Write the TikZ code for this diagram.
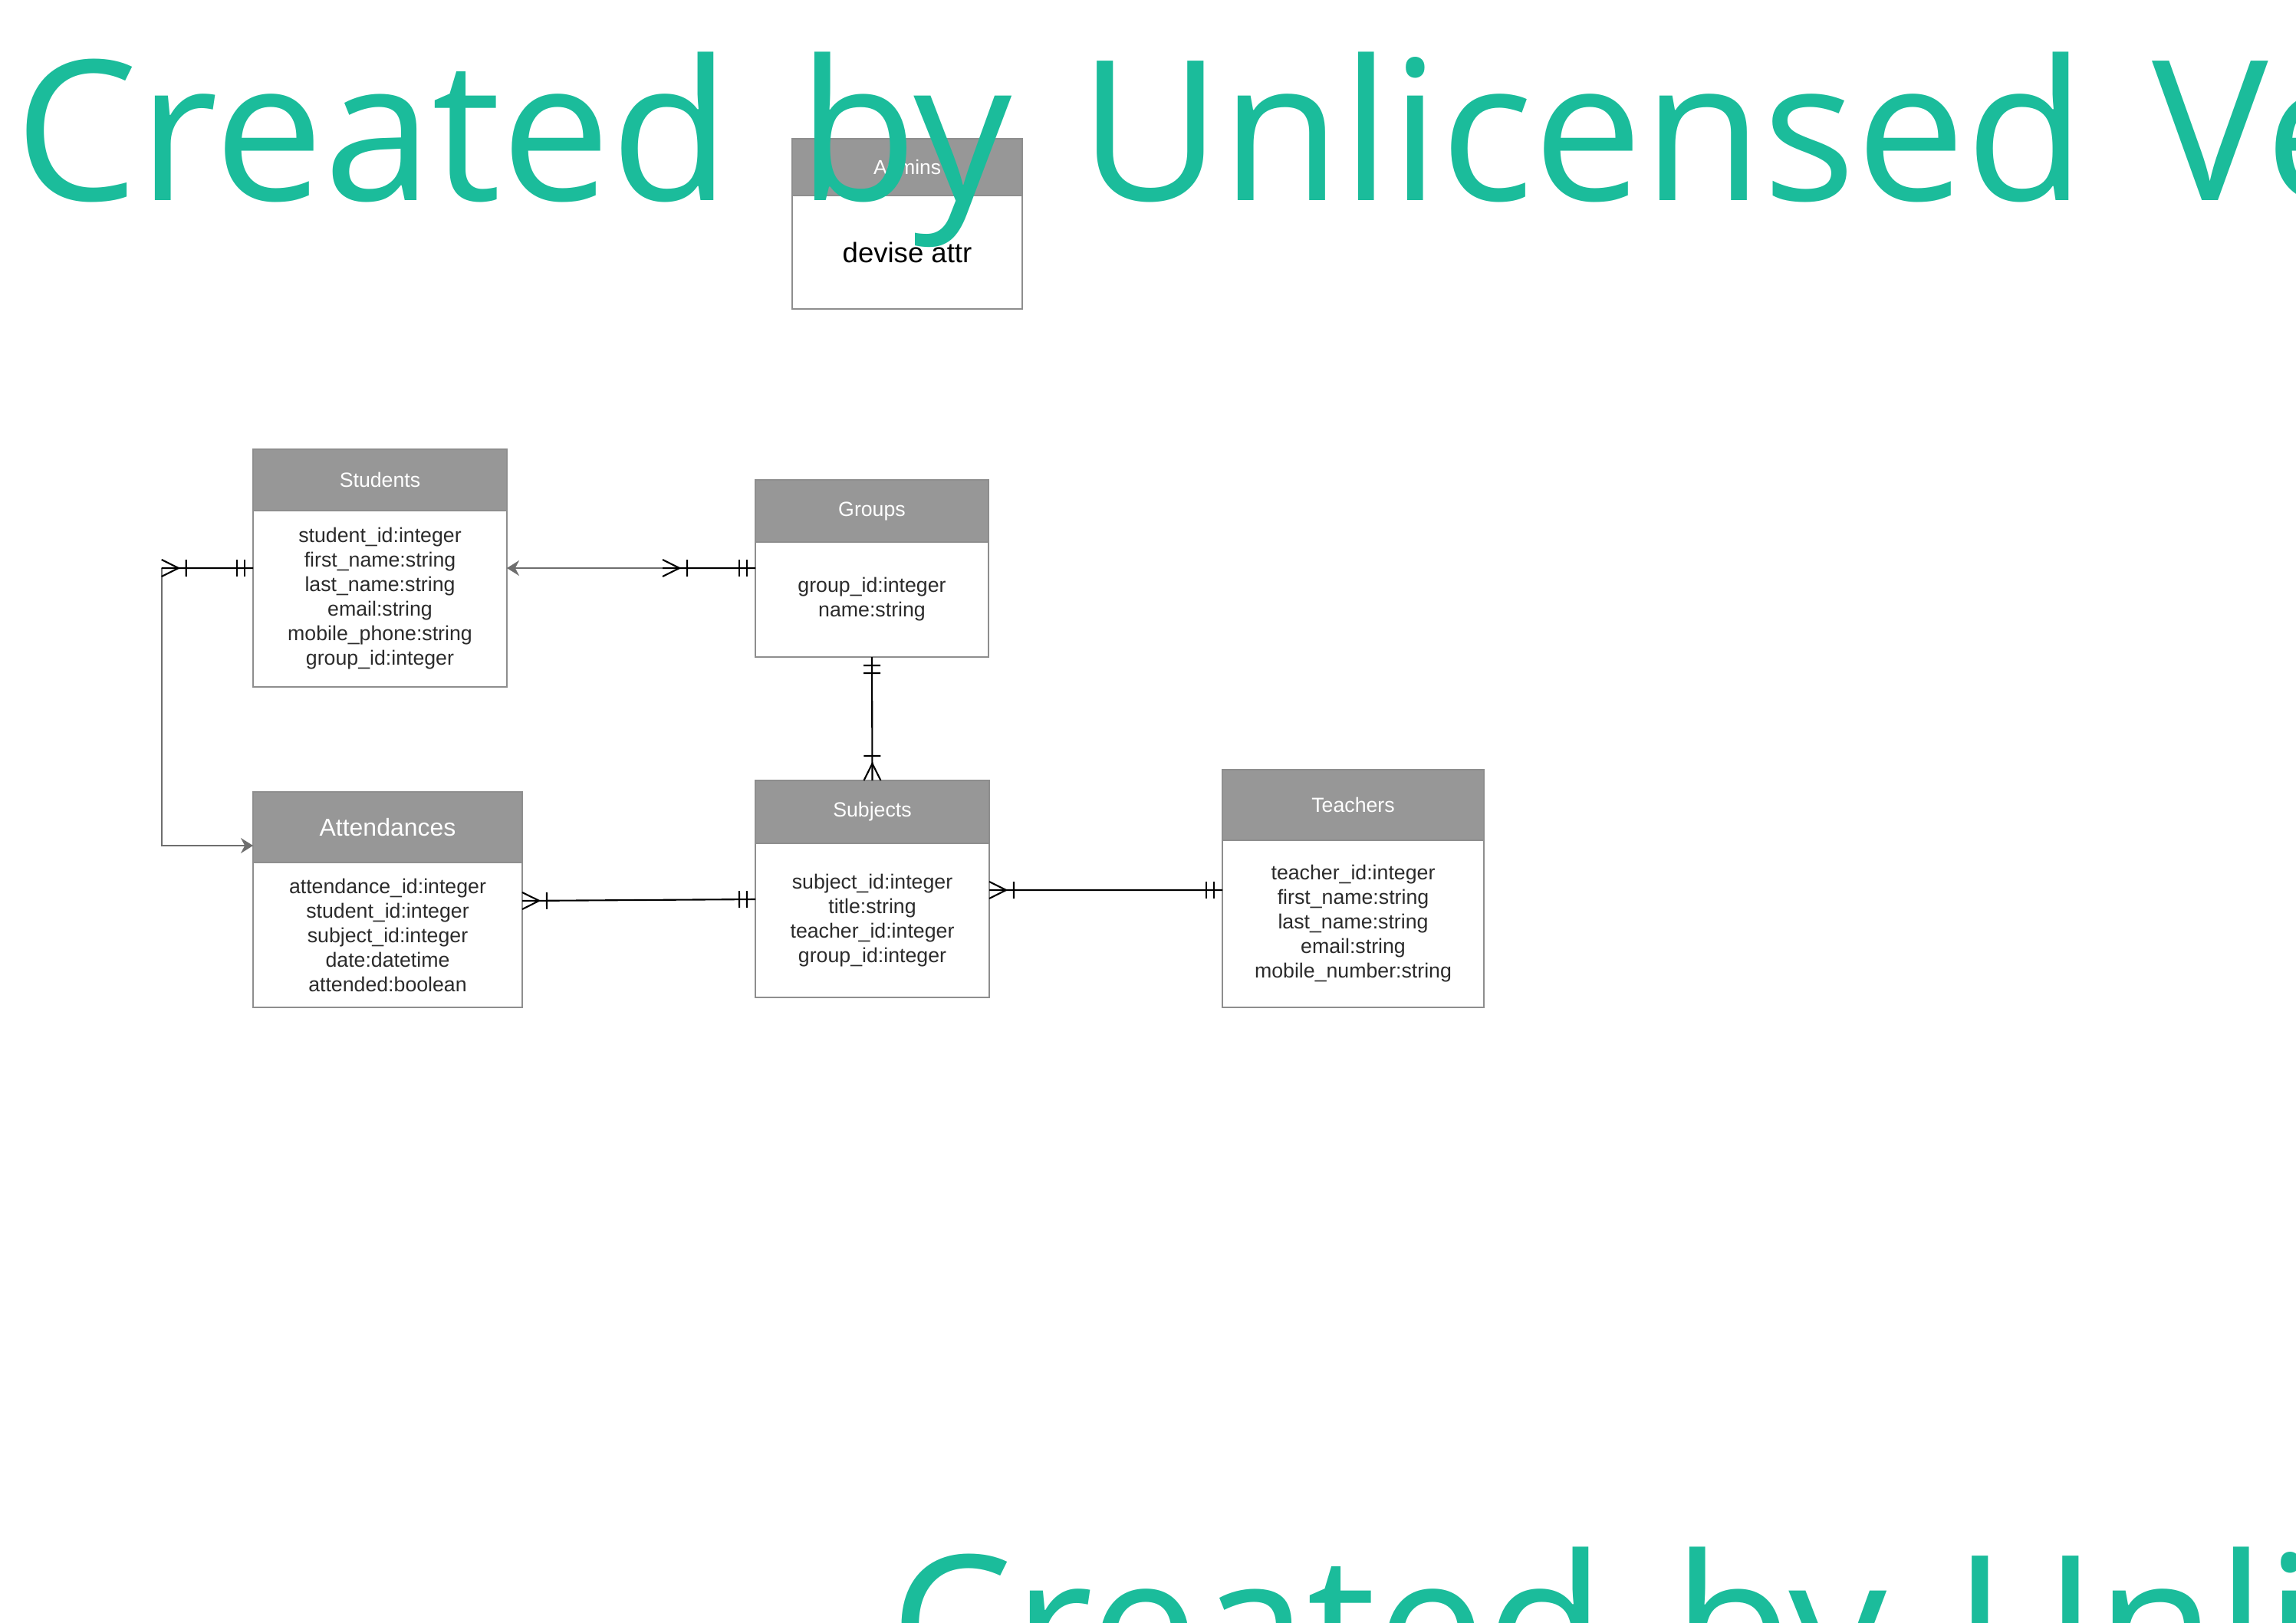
\documentclass[tikz,border=0pt]{standalone}
\usepackage{fontspec}
\setmainfont{Liberation Sans}
\newfontfamily\wmfont[WordSpace=1.32]{Open Sans}
\usetikzlibrary{arrows.meta,positioning,decorations.markings}
\definecolor{headgrey}{HTML}{979797}
\definecolor{boxline}{HTML}{8E8E8E}
\definecolor{attrtext}{HTML}{2B2B2B}
\definecolor{linkgrey}{HTML}{6E6E6E}
\definecolor{watermark}{HTML}{1BBC9B}

\begin{document}
\begin{tikzpicture}[
    tblhead/.style={rectangle,draw=boxline,fill=headgrey,line width=0.6pt,text=white,
      inner sep=0pt,outer sep=0pt,anchor=north west,font=\fontsize{7.6}{9.1}\selectfont},
    tblbody/.style={rectangle,draw=boxline,fill=white,line width=0.6pt,text=attrtext,
      inner sep=0pt,outer sep=0pt,align=center,font=\fontsize{7.6}{9.1}\selectfont},
    erlink/.style={draw=black,line width=0.6pt,postaction={decorate,decoration={markings,
      mark=at position 0pt with {\draw[line width=0.6pt] (0,0.11) -- (0.22,0) -- (0,-0.11) (0.32,0.11) -- (0.32,-0.11);},
      mark=at position -0.21cm with {\draw[line width=0.6pt] (0,0.11) -- (0,-0.11);},
      mark=at position -0.11cm with {\draw[line width=0.6pt] (0,0.11) -- (0,-0.11);}}}},
    greylink/.style={draw=linkgrey,line width=0.5pt,-{Stealth[length=1.6mm,width=2mm]}}
  ]
  \fill[white] (0,0) rectangle (29.94,-21.16);
  \useasboundingbox (0,0) rectangle (29.94,-21.16);

  \node[tblhead,minimum width=3.00cm,minimum height=0.74cm,font=\fontsize{7.5}{9}\selectfont] (admins) at (10.33,-1.81) {Admins};
  \node[tblbody,minimum width=3.00cm,minimum height=1.48cm,below=0pt of admins,text=black,font=\fontsize{10.4}{12.5}\selectfont] (adminsbody) {devise attr};

  \node[tblhead,minimum width=3.31cm,minimum height=0.80cm] (students) at (3.30,-5.86) {Students};
  \node[tblbody,minimum width=3.31cm,minimum height=2.30cm,below=0pt of students] (studentsbody)
    {student\_id:integer\\first\_name:string\\last\_name:string\\email:string\\mobile\_phone:string\\group\_id:integer};

  \node[tblhead,minimum width=3.04cm,minimum height=0.81cm] (groups) at (9.85,-6.26) {Groups};
  \node[tblbody,minimum width=3.04cm,minimum height=1.50cm,below=0pt of groups] (groupsbody)
    {group\_id:integer\\name:string};

  \node[tblhead,minimum width=3.51cm,minimum height=0.92cm,font=\fontsize{9.1}{11}\selectfont] (attendances) at (3.30,-10.33) {Attendances};
  \node[tblbody,minimum width=3.51cm,minimum height=1.89cm,below=0pt of attendances] (attendancesbody)
    {attendance\_id:integer\\student\_id:integer\\subject\_id:integer\\date:datetime\\attended:boolean};

  \node[tblhead,minimum width=3.05cm,minimum height=0.82cm] (subjects) at (9.85,-10.18) {Subjects};
  \node[tblbody,minimum width=3.05cm,minimum height=2.01cm,below=0pt of subjects] (subjectsbody)
    {subject\_id:integer\\title:string\\teacher\_id:integer\\group\_id:integer};

  \node[tblhead,minimum width=3.41cm,minimum height=0.92cm] (teachers) at (15.94,-10.04) {Teachers};
  \node[tblbody,minimum width=3.41cm,minimum height=2.18cm,below=0pt of teachers] (teachersbody)
    {teacher\_id:integer\\first\_name:string\\last\_name:string\\email:string\\mobile\_number:string};

  \coordinate (gsjoin) at (8.64,-7.41);
  \coordinate (sajoin) at (2.107,-7.41);

  \draw[greylink] (gsjoin) -- ([yshift=-0.75cm]studentsbody.north east);
  \draw[erlink] (gsjoin) -- ([yshift=-0.34cm]groupsbody.north west);
  \draw[greylink] (sajoin) |- ([yshift=-0.70cm]attendances.north west);
  \draw[erlink] (sajoin) -- ([yshift=-0.75cm]studentsbody.north west);
  \draw[erlink] (subjects.north) -- (groupsbody.south);
  \draw[erlink] ([yshift=-0.50cm]attendancesbody.north east) -- ([yshift=-0.73cm]subjectsbody.north west);
  \draw[erlink] ([yshift=-0.61cm]subjectsbody.north east) -- ([yshift=-0.65cm]teachersbody.north west);

  \begin{scope}
    \clip (0,0) rectangle (29.94,-21.16);
    \node[anchor=base west,inner sep=0pt,text=watermark,font=\wmfont\fontsize{72.5}{80}\selectfont] (wmtop) at (0.19,-2.61) {Created by Unlicensed Ve};
    \node[anchor=base west,inner sep=0pt,text=watermark,font=\wmfont\fontsize{72.5}{80}\selectfont] (wmbottom) at (11.60,-22.11) {Created by Unli};
  \end{scope}
\end{tikzpicture}
\end{document}
